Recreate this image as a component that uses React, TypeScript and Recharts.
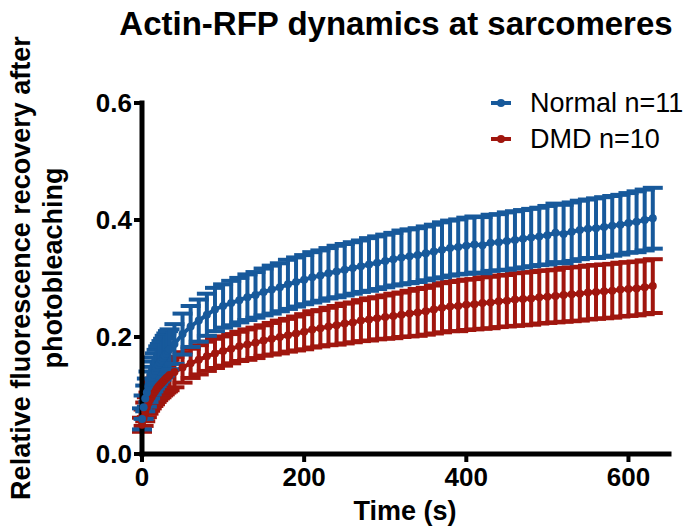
import { LineChart, Line, XAxis, YAxis, ErrorBar } from "recharts";

const FONT = '"Liberation Sans", Arial, Helvetica, sans-serif';
const BLUE = "#17599b";
const RED = "#a0160e";

// seconds after bleach
const times = [
  0, 2, 4, 6, 8, 10, 12, 14, 16, 18, 20, 22, 24, 26, 28, 30, 32, 34,
  40, 50, 60, 70, 80, 90, 100, 110, 120, 130, 140, 150, 160, 170, 180, 190,
  200, 210, 220, 230, 240, 250, 260, 270, 280, 290, 300, 310, 320, 330, 340,
  350, 360, 370, 380, 390, 400, 410, 420, 430, 440, 450, 460, 470, 480, 490,
  500, 510, 520, 530, 540, 550, 560, 570, 580, 590, 600, 610, 620, 630,
];

const normalMean = [
  0.06, 0.08, 0.095, 0.105, 0.115, 0.122, 0.13, 0.136, 0.142, 0.147, 0.152, 0.156, 0.16, 0.164, 0.168, 0.172, 0.176, 0.179,
  0.188, 0.205, 0.218, 0.228, 0.238, 0.247, 0.253, 0.258, 0.263, 0.268, 0.272, 0.277, 0.281, 0.285, 0.29, 0.294,
  0.298, 0.302, 0.305, 0.309, 0.312, 0.315, 0.318, 0.321, 0.324, 0.327, 0.33, 0.333, 0.336, 0.338, 0.34,
  0.343, 0.346, 0.349, 0.352, 0.354, 0.356, 0.358, 0.357, 0.361, 0.362, 0.364, 0.366, 0.368, 0.37, 0.372,
  0.374, 0.378, 0.376, 0.38, 0.383, 0.385, 0.386, 0.388, 0.39, 0.392, 0.395, 0.397, 0.4, 0.403,
];

const normalSem = [
  0.018, 0.02, 0.022, 0.024, 0.026, 0.027, 0.028, 0.029, 0.03, 0.031, 0.032, 0.032, 0.033, 0.033, 0.034, 0.034, 0.034, 0.034,
  0.034, 0.035, 0.035, 0.036, 0.036, 0.037, 0.037, 0.038, 0.038, 0.039, 0.039, 0.04, 0.041, 0.041, 0.042, 0.042,
  0.042, 0.043, 0.043, 0.043, 0.044, 0.044, 0.044, 0.044, 0.045, 0.045, 0.045, 0.045, 0.046, 0.046, 0.046,
  0.046, 0.046, 0.047, 0.047, 0.047, 0.048, 0.048, 0.048, 0.048, 0.048, 0.049, 0.049, 0.049, 0.049, 0.049,
  0.05, 0.05, 0.05, 0.05, 0.05, 0.05, 0.051, 0.051, 0.051, 0.051, 0.051, 0.052, 0.052, 0.052,
];

const dmdMean = [
  0.05, 0.062, 0.072, 0.08, 0.087, 0.093, 0.098, 0.103, 0.107, 0.111, 0.115, 0.118, 0.121, 0.124, 0.127, 0.13, 0.132, 0.135,
  0.14, 0.148, 0.155, 0.161, 0.167, 0.172, 0.176, 0.18, 0.184, 0.187, 0.19, 0.194, 0.197, 0.2, 0.203, 0.206,
  0.209, 0.213, 0.215, 0.218, 0.22, 0.223, 0.225, 0.228, 0.23, 0.232, 0.234, 0.236, 0.238, 0.24, 0.242,
  0.244, 0.247, 0.25, 0.252, 0.253, 0.255, 0.256, 0.258, 0.259, 0.261, 0.262, 0.264, 0.265, 0.266, 0.268,
  0.269, 0.27, 0.272, 0.273, 0.274, 0.276, 0.277, 0.278, 0.279, 0.281, 0.282, 0.283, 0.285, 0.287,
];

const dmdSem = [
  0.012, 0.014, 0.016, 0.017, 0.018, 0.019, 0.02, 0.021, 0.022, 0.022, 0.023, 0.023, 0.024, 0.024, 0.025, 0.025, 0.025, 0.026,
  0.026, 0.026, 0.025, 0.025, 0.025, 0.025, 0.025, 0.025, 0.025, 0.026, 0.026, 0.026, 0.027, 0.028, 0.028, 0.029,
  0.03, 0.031, 0.031, 0.032, 0.033, 0.034, 0.034, 0.035, 0.036, 0.036, 0.037, 0.038, 0.038, 0.039, 0.04,
  0.04, 0.041, 0.042, 0.042, 0.043, 0.043, 0.043, 0.044, 0.044, 0.044, 0.044, 0.045, 0.045, 0.045, 0.045,
  0.045, 0.045, 0.046, 0.046, 0.046, 0.046, 0.046, 0.046, 0.046, 0.046, 0.046, 0.046, 0.046, 0.046,
];

const xTicks = [0, 200, 400, 600];
const yTicks = [0, 0.2, 0.4, 0.6];

const series = [
  { key: "normal", label: "Normal n=11", color: BLUE },
  { key: "dmd", label: "DMD n=10", color: RED },
];

const data = times.map((t, i) => ({
  t,
  normal: normalMean[i],
  normalErr: normalSem[i],
  dmd: dmdMean[i],
  dmdErr: dmdSem[i],
}));

const YLabel = () => (
  <g fontFamily={FONT} fontWeight="bold" fontSize={27} fill="#000">
    <text x={30} y={268} transform="rotate(-90 30 268)" textAnchor="middle">
      Relative fluorescence recovery after
    </text>
    <text x={62} y={268} transform="rotate(-90 62 268)" textAnchor="middle">
      photobleaching
    </text>
  </g>
);

const XLabel = () => (
  <text x={405} y={520} textAnchor="middle" fontFamily={FONT} fontWeight="bold" fontSize={27} fill="#000">
    Time (s)
  </text>
);

export default function App() {
  const axisLine = { stroke: "#000", strokeWidth: 5, strokeLinecap: "square" as const };
  const tickLine = { stroke: "#000", strokeWidth: 4 };
  const tickStyle = { fontFamily: FONT, fontWeight: "bold", fontSize: 26, fill: "#000" };

  return (
    <div style={{ position: "absolute", left: 0, top: 0, width: 696, height: 531, background: "#fff", overflow: "hidden" }}>
      <div
        style={{
          position: "absolute",
          left: 96,
          top: 7,
          width: 600,
          textAlign: "center",
          fontFamily: FONT,
          fontWeight: "bold",
          fontSize: 33,
          lineHeight: "33px",
          whiteSpace: "nowrap",
        }}
      >
        Actin-RFP dynamics at sarcomeres
      </div>

      <LineChart width={696} height={531} data={data} margin={{ top: 103, right: 27, left: 82, bottom: 17 }}>
        <XAxis
          dataKey="t"
          type="number"
          domain={[0, 650]}
          ticks={xTicks}
          axisLine={axisLine}
          tickLine={tickLine}
          tickSize={8}
          tickMargin={6}
          tick={tickStyle}
          height={60}
          label={{ content: () => <XLabel /> }}
        />
        <YAxis
          type="number"
          domain={[0, 0.6]}
          ticks={yTicks}
          tickFormatter={(v: number) => v.toFixed(1)}
          axisLine={axisLine}
          tickLine={tickLine}
          tickSize={8}
          tickMargin={2}
          tick={tickStyle}
          width={60}
          label={{ content: () => <YLabel /> }}
        />
        {[...series].reverse().map((s) => (
          <Line
            key={s.key}
            dataKey={s.key}
            type="linear"
            stroke={s.color}
            strokeWidth={4}
            dot={{ r: 4, fill: s.color, stroke: s.color, strokeWidth: 0 }}
            activeDot={false}
            isAnimationActive={false}
          >
            <ErrorBar
              dataKey={`${s.key}Err`}
              direction="y"
              width={10}
              strokeWidth={4}
              stroke={s.color}
              isAnimationActive={false}
            />
          </Line>
        ))}
      </LineChart>

      <div style={{ position: "absolute", left: 490, top: 85, fontFamily: FONT }}>
        {series.map((s) => (
          <div key={s.key} style={{ display: "flex", alignItems: "center", height: 36 }}>
            <svg width={22} height={10}>
              <line x1={1} y1={5} x2={21} y2={5} stroke={s.color} strokeWidth={4} />
              <circle cx={11} cy={5} r={4} fill={s.color} />
            </svg>
            <span style={{ marginLeft: 18, fontSize: 27, color: "#000", whiteSpace: "nowrap" }}>{s.label}</span>
          </div>
        ))}
      </div>
    </div>
  );
}
